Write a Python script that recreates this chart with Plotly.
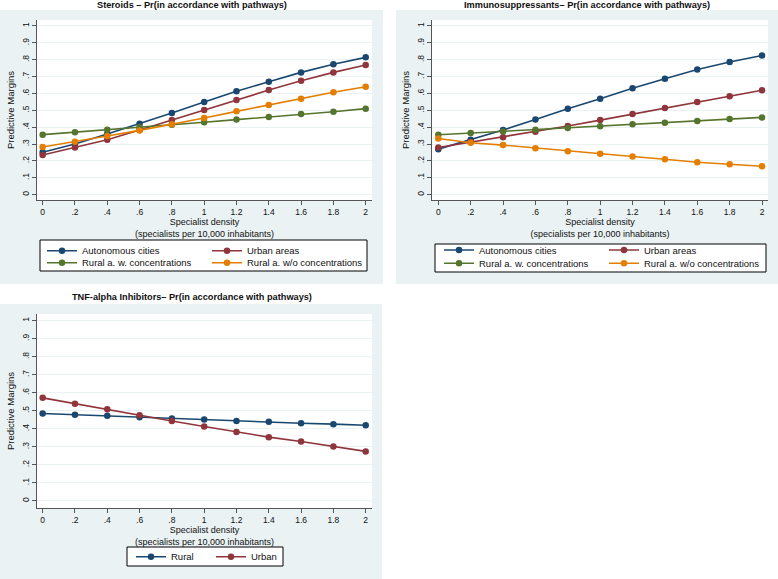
import plotly.graph_objects as go

W, H = 778, 579

# ---------------- data ----------------
density = [0, 0.2, 0.4, 0.6, 0.8, 1.0, 1.2, 1.4, 1.6, 1.8, 2.0]
x_tick_labels = ["0", ".2", ".4", ".6", ".8", "1", "1.2", "1.4", "1.6", "1.8", "2"]
y_tick_vals = [0, 0.1, 0.2, 0.3, 0.4, 0.5, 0.6, 0.7, 0.8, 0.9, 1.0]
y_tick_labels = ["0", ".1", ".2", ".3", ".4", ".5", ".6", ".7", ".8", ".9", "1"]

# Steroids
ster_autonomous = [0.251, 0.300, 0.360, 0.421, 0.484, 0.549, 0.613, 0.670, 0.725, 0.773, 0.814]
ster_urban = [0.235, 0.279, 0.326, 0.383, 0.443, 0.502, 0.561, 0.620, 0.676, 0.725, 0.769]
ster_rural_w = [0.356, 0.370, 0.385, 0.400, 0.415, 0.429, 0.445, 0.460, 0.478, 0.492, 0.510]
ster_rural_wo = [0.283, 0.314, 0.348, 0.381, 0.417, 0.455, 0.494, 0.532, 0.569, 0.607, 0.640]

# Immunosuppressants
imm_autonomous = [0.270, 0.325, 0.383, 0.446, 0.510, 0.569, 0.631, 0.687, 0.742, 0.786, 0.825]
imm_urban = [0.280, 0.312, 0.341, 0.373, 0.407, 0.442, 0.478, 0.514, 0.550, 0.583, 0.619]
imm_rural_w = [0.355, 0.365, 0.375, 0.385, 0.395, 0.405, 0.417, 0.427, 0.437, 0.448, 0.458]
imm_rural_wo = [0.333, 0.308, 0.294, 0.276, 0.258, 0.242, 0.226, 0.210, 0.192, 0.180, 0.169]

# TNF-alpha inhibitors
tnf_rural = [0.485, 0.478, 0.472, 0.465, 0.457, 0.452, 0.444, 0.439, 0.431, 0.426, 0.420]
tnf_urban = [0.572, 0.539, 0.509, 0.476, 0.444, 0.413, 0.383, 0.354, 0.330, 0.302, 0.275]

NAVY = "#1A476F"
MAROON = "#90353B"
GREEN = "#55752F"
ORANGE = "#E37E00"
BG = "#EAF2F3"
FONT = "Liberation Sans, Arial, sans-serif"


def px_x(p):
    return p / W


def px_y(p):
    return 1 - p / H


fig = go.Figure()


def add_series(x_ax, y_ax, name, values, color, legend):
    fig.add_trace(go.Scatter(
        x=density, y=values, name=name, mode="lines+markers",
        line=dict(color=color, width=1.6),
        marker=dict(color=color, size=6.5),
        xaxis=x_ax, yaxis=y_ax, legend=legend,
    ))


add_series("x", "y", "Autonomous cities", ster_autonomous, NAVY, "legend")
add_series("x", "y", "Urban areas", ster_urban, MAROON, "legend")
add_series("x", "y", "Rural a. w. concentrations", ster_rural_w, GREEN, "legend2")
add_series("x", "y", "Rural a. w/o concentrations", ster_rural_wo, ORANGE, "legend2")

add_series("x2", "y2", "Autonomous cities", imm_autonomous, NAVY, "legend3")
add_series("x2", "y2", "Urban areas", imm_urban, MAROON, "legend3")
add_series("x2", "y2", "Rural a. w. concentrations", imm_rural_w, GREEN, "legend4")
add_series("x2", "y2", "Rural a. w/o concentrations", imm_rural_wo, ORANGE, "legend4")

add_series("x3", "y3", "Rural", tnf_rural, NAVY, "legend5")
add_series("x3", "y3", "Urban", tnf_urban, MAROON, "legend5")


def xaxis_cfg(domain, anchor, rng):
    return dict(
        domain=domain, anchor=anchor, range=rng,
        tickmode="array", tickvals=density, ticktext=x_tick_labels,
        ticks="outside", ticklen=4, tickcolor="#555", tickwidth=1,
        showline=True, linecolor="#555", linewidth=1,
        showgrid=False, zeroline=False,
        tickfont=dict(size=8.5, color="#111", family=FONT),
        title=dict(text="Specialist density<br>(specialists per 10,000 inhabitants)",
                   font=dict(size=9, color="#111", family=FONT), standoff=1),
    )


def yaxis_cfg(domain, anchor, rng):
    return dict(
        domain=domain, anchor=anchor, range=rng,
        tickmode="array", tickvals=y_tick_vals, ticktext=y_tick_labels,
        tickangle=-90,
        ticks="outside", ticklen=4, tickcolor="#555", tickwidth=1,
        showline=True, linecolor="#555", linewidth=1,
        showgrid=True, gridcolor=BG, gridwidth=1, zeroline=False,
        tickfont=dict(size=8.5, color="#111", family=FONT),
        title=dict(text="Predictive Margins",
                   font=dict(size=9.5, color="#111", family=FONT), standoff=4),
    )


top_ydom = [px_y(200), px_y(20)]
fig.update_layout(
    xaxis=xaxis_cfg([px_x(37), px_x(372)], "y", [-0.035, 2.039]),
    yaxis=yaxis_cfg(top_ydom, "x", [-0.0315, 1.0355]),
    xaxis2=xaxis_cfg([px_x(432), px_x(768)], "y2", [-0.039, 2.037]),
    yaxis2=yaxis_cfg(top_ydom, "x2", [-0.0315, 1.0355]),
    xaxis3=xaxis_cfg([px_x(37), px_x(372)], "y3", [-0.035, 2.039]),
    yaxis3=yaxis_cfg([px_y(508), px_y(314)], "x3", [-0.039, 1.037]),
)

legend_common = dict(
    orientation="h", xanchor="left", yanchor="top",
    bgcolor="rgba(0,0,0,0)", borderwidth=0,
    font=dict(size=9.5, color="#111", family=FONT),
    itemclick=False, itemdoubleclick=False,
)
fig.update_layout(
    legend=dict(**legend_common, x=px_x(42), y=px_y(236.2), entrywidth=120),
    legend2=dict(**legend_common, x=px_x(42), y=px_y(248.2), entrywidth=120),
    legend3=dict(**legend_common, x=px_x(439), y=px_y(235.5), entrywidth=120),
    legend4=dict(**legend_common, x=px_x(439), y=px_y(248.8), entrywidth=120),
    legend5=dict(**legend_common, x=px_x(131), y=px_y(542.2), entrywidth=35),
)

# panel backgrounds (graph regions)
for (x0, y0, x1, y1) in [(0, 10, 383, 284), (396, 10, 778, 284), (0, 304, 382, 579)]:
    fig.add_shape(type="rect", xref="paper", yref="paper",
                  x0=px_x(x0), x1=px_x(x1), y0=px_y(y1), y1=px_y(y0),
                  fillcolor=BG, line=dict(width=0), layer="below")
# white plot regions
for (x0, y0, x1, y1) in [(37, 20, 372, 200), (432, 20, 768, 200), (37, 314, 372, 508)]:
    fig.add_shape(type="rect", xref="paper", yref="paper",
                  x0=px_x(x0), x1=px_x(x1), y0=px_y(y1), y1=px_y(y0),
                  fillcolor="white", line=dict(width=0), layer="below")
# legend frames
for (x0, y0, x1, y1) in [(40, 240, 367, 271), (435, 244, 766, 272), (127, 547, 283, 566)]:
    fig.add_shape(type="rect", xref="paper", yref="paper",
                  x0=px_x(x0), x1=px_x(x1), y0=px_y(y1), y1=px_y(y0),
                  fillcolor="white", line=dict(width=1, color="black"), layer="below")

titles = [
    ("Steroids – Pr(in accordance with pathways)", 192, 5),
    ("Immunosuppressants– Pr(in accordance with pathways)", 587, 5),
    ("TNF-alpha Inhibitors– Pr(in accordance with pathways)", 192, 297),
]
for text, cx, cy in titles:
    fig.add_annotation(text="<b>" + text + "</b>", xref="paper", yref="paper",
                       x=px_x(cx), y=px_y(cy), xanchor="center", yanchor="middle",
                       showarrow=False, font=dict(size=9.2, color="#111", family=FONT))

fig.update_layout(
    width=W, height=H, margin=dict(l=0, r=0, t=0, b=0, autoexpand=False),
    paper_bgcolor="white", plot_bgcolor="rgba(0,0,0,0)",
    showlegend=True,
)

fig.write_html("out.html", config={"displayModeBar": False},
               post_script="document.body.style.margin='0';")
